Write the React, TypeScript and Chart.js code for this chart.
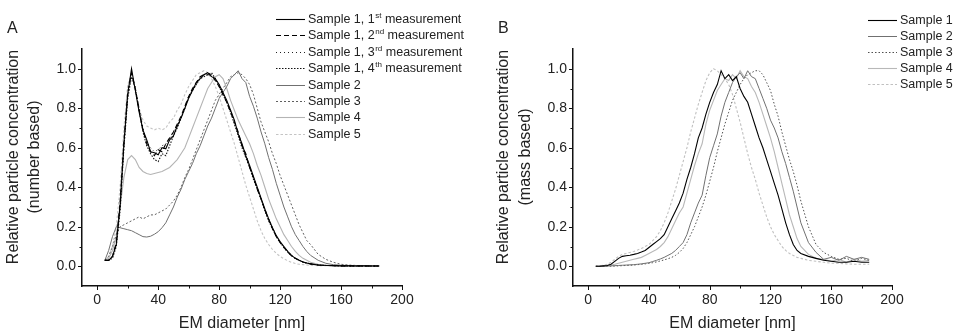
import React, { useEffect, useRef } from "react";
import { Chart, registerables } from "chart.js";

Chart.register(...registerables);

const FONT = '"Liberation Sans", Arial, Helvetica, sans-serif';

// ---------- data ----------
const diameter = [
  5, 7.5, 10, 12.5, 15, 17.5, 20, 22.5, 25, 27.5,
  30, 32.5, 35, 37.5, 40, 42.5, 45, 47.5, 50, 52.5,
  55, 57.5, 60, 62.5, 65, 67.5, 70, 72.5, 75, 77.5,
  80, 82.5, 85, 87.5, 90, 92.5, 95, 97.5, 100, 102.5,
  105, 107.5, 110, 112.5, 115, 117.5, 120, 122.5, 125, 127.5,
  130, 132.5, 135, 137.5, 140,
  145, 150, 155, 160, 165, 170, 175, 180, 185,
];

// Panel A: number based
const numberS1m1 = [
  0.03, 0.03, 0.05, 0.11, 0.31, 0.62, 0.87, 1.0, 0.89, 0.78,
  0.69, 0.64, 0.58, 0.575, 0.565, 0.6, 0.595, 0.64, 0.66, 0.71,
  0.75, 0.8, 0.85, 0.89, 0.93, 0.95, 0.97, 0.98, 0.96, 0.95,
  0.92, 0.88, 0.84, 0.79, 0.74, 0.67, 0.62, 0.56, 0.51, 0.455,
  0.4, 0.345, 0.29, 0.24, 0.195, 0.155, 0.125, 0.1, 0.075, 0.055,
  0.04, 0.03, 0.022, 0.016, 0.012,
  0.006, 0.004, 0.003, 0.002, 0.002, 0.001, 0.002, 0.001, 0.001,
];
const numberS1m2 = [
  0.03, 0.03, 0.05, 0.12, 0.32, 0.63, 0.88, 0.98, 0.9, 0.79,
  0.69, 0.62, 0.58, 0.56, 0.59, 0.58, 0.62, 0.65, 0.68, 0.72,
  0.76, 0.81, 0.86, 0.9, 0.93, 0.96, 0.97, 0.97, 0.97, 0.94,
  0.91, 0.87, 0.83, 0.78, 0.73, 0.68, 0.61, 0.57, 0.5, 0.45,
  0.39, 0.34, 0.285, 0.235, 0.19, 0.15, 0.12, 0.095, 0.072, 0.053,
  0.04, 0.03, 0.022, 0.016, 0.012,
  0.006, 0.004, 0.003, 0.002, 0.002, 0.002, 0.001, 0.001, 0.001,
];
const numberS1m3 = [
  0.03, 0.03, 0.05, 0.11, 0.3, 0.6, 0.86, 0.97, 0.9, 0.8,
  0.7, 0.63, 0.6, 0.58, 0.59, 0.61, 0.62, 0.64, 0.68, 0.71,
  0.75, 0.8, 0.85, 0.89, 0.92, 0.95, 0.97, 0.98, 0.96, 0.95,
  0.92, 0.88, 0.83, 0.79, 0.73, 0.67, 0.61, 0.55, 0.5, 0.45,
  0.4, 0.34, 0.29, 0.24, 0.195, 0.155, 0.125, 0.1, 0.075, 0.055,
  0.04, 0.03, 0.022, 0.016, 0.012,
  0.006, 0.004, 0.003, 0.002, 0.002, 0.001, 0.001, 0.001, 0.001,
];
const numberS1m4 = [
  0.03, 0.03, 0.04, 0.1, 0.28, 0.6, 0.85, 0.96, 0.9, 0.79,
  0.68, 0.61, 0.57, 0.54, 0.53, 0.57, 0.56, 0.61, 0.66, 0.7,
  0.75, 0.8, 0.86, 0.89, 0.92, 0.95, 0.96, 0.97, 0.98, 0.95,
  0.91, 0.87, 0.83, 0.78, 0.72, 0.66, 0.6, 0.55, 0.5, 0.44,
  0.39, 0.34, 0.28, 0.23, 0.19, 0.15, 0.12, 0.095, 0.072, 0.053,
  0.04, 0.03, 0.022, 0.016, 0.012,
  0.006, 0.004, 0.003, 0.002, 0.002, 0.001, 0.001, 0.001, 0.001,
];
const numberS2 = [
  0.03, 0.08, 0.15, 0.2, 0.195, 0.19, 0.185, 0.18, 0.17, 0.16,
  0.15, 0.148, 0.152, 0.162, 0.175, 0.195, 0.22, 0.26, 0.3, 0.35,
  0.39, 0.44, 0.48, 0.52, 0.57, 0.61, 0.66, 0.71, 0.75, 0.8,
  0.85, 0.88, 0.91, 0.95, 0.97, 0.99, 0.95, 0.93, 0.86, 0.81,
  0.75, 0.68, 0.62, 0.55, 0.49, 0.42, 0.36, 0.3, 0.25, 0.2,
  0.16, 0.13, 0.1, 0.075, 0.055,
  0.03, 0.015, 0.008, 0.005, 0.004, 0.003, 0.003, 0.002, 0.002,
];
const numberS3 = [
  0.03, 0.05, 0.1, 0.16, 0.2, 0.21, 0.22, 0.23, 0.24, 0.25,
  0.24, 0.25, 0.26, 0.26, 0.27, 0.28, 0.29, 0.31, 0.33, 0.36,
  0.4, 0.45, 0.49, 0.54, 0.59, 0.64, 0.69, 0.74, 0.79, 0.84,
  0.87, 0.9, 0.93, 0.96, 0.97, 0.98, 0.97, 0.95, 0.92, 0.87,
  0.8, 0.73, 0.68, 0.63, 0.57, 0.52, 0.46, 0.41, 0.36, 0.31,
  0.26, 0.21, 0.17, 0.13, 0.11,
  0.06, 0.035, 0.02, 0.01, 0.006, 0.004, 0.003, 0.002, 0.002,
];
const numberS4 = [
  0.03, 0.04, 0.08, 0.15, 0.3, 0.45, 0.54, 0.56, 0.54, 0.5,
  0.48, 0.47, 0.465, 0.47, 0.475, 0.48, 0.49, 0.5, 0.52, 0.54,
  0.57, 0.6, 0.65, 0.7, 0.75, 0.8, 0.85, 0.9, 0.93, 0.96,
  0.97, 0.95, 0.9, 0.84, 0.79, 0.74, 0.7, 0.66, 0.62, 0.57,
  0.51, 0.46, 0.4, 0.34, 0.29, 0.24, 0.2, 0.16, 0.13, 0.1,
  0.075, 0.055, 0.04, 0.03, 0.02,
  0.01, 0.006, 0.004, 0.003, 0.003, 0.002, 0.002, 0.002, 0.001,
];
const numberS5 = [
  0.03, 0.05, 0.1, 0.2, 0.4, 0.7, 0.92, 0.97, 0.88, 0.8,
  0.74, 0.71, 0.7, 0.69, 0.7, 0.69, 0.7, 0.73, 0.75, 0.79,
  0.82, 0.87, 0.91, 0.94, 0.97, 0.98, 0.99, 0.98, 0.95, 0.91,
  0.86, 0.8, 0.74, 0.68, 0.62, 0.55, 0.48, 0.41, 0.35, 0.29,
  0.23, 0.18, 0.14, 0.11, 0.085, 0.065, 0.05, 0.038, 0.028, 0.02,
  0.014, 0.01, 0.008, 0.006, 0.005,
  0.003, 0.003, 0.002, 0.002, 0.002, 0.001, 0.001, 0.001, 0.001,
];

// Panel B: mass based
const massS1 = [
  0, 0, 0.002, 0.004, 0.01, 0.025, 0.04, 0.05, 0.053, 0.056,
  0.06, 0.065, 0.072, 0.08, 0.095, 0.11, 0.125, 0.14, 0.16, 0.2,
  0.24, 0.28, 0.32, 0.37, 0.44, 0.5, 0.57, 0.65, 0.7, 0.77,
  0.83, 0.88, 0.92, 0.99, 0.95, 0.97, 0.94, 0.96, 0.9, 0.86,
  0.83, 0.77, 0.71, 0.65, 0.6, 0.54, 0.48, 0.42, 0.36, 0.29,
  0.22, 0.16, 0.11, 0.08, 0.065,
  0.05, 0.04, 0.03, 0.025, 0.02, 0.02, 0.025, 0.02, 0.02,
];
const massS2 = [
  0, 0, 0, 0.001, 0.002, 0.003, 0.004, 0.005, 0.006, 0.007,
  0.008, 0.01, 0.012, 0.015, 0.018, 0.024, 0.03, 0.037, 0.045, 0.055,
  0.065, 0.08, 0.1, 0.12, 0.16, 0.22, 0.27, 0.32, 0.36, 0.46,
  0.55, 0.61, 0.67, 0.76, 0.83, 0.88, 0.93, 0.96, 0.98, 0.95,
  0.99, 0.96, 0.95, 0.9, 0.85, 0.8, 0.74, 0.7, 0.65, 0.58,
  0.52, 0.45, 0.38, 0.3, 0.22,
  0.12, 0.07, 0.035, 0.045, 0.03, 0.05, 0.035, 0.045, 0.035,
];
const massS3 = [
  0, 0, 0, 0, 0, 0.001, 0.002, 0.003, 0.004, 0.005,
  0.006, 0.008, 0.01, 0.012, 0.015, 0.018, 0.022, 0.027, 0.032, 0.038,
  0.045, 0.055, 0.07, 0.09, 0.12, 0.16, 0.2, 0.25, 0.3, 0.36,
  0.43, 0.5, 0.58, 0.65, 0.72, 0.78, 0.84, 0.88, 0.92, 0.95,
  0.97, 0.98, 0.99, 0.99, 0.97, 0.93, 0.89, 0.82, 0.76, 0.68,
  0.61, 0.54, 0.48, 0.41, 0.33,
  0.2, 0.11, 0.07, 0.05, 0.035, 0.04, 0.025, 0.04, 0.03,
];
const massS4 = [
  0, 0, 0.002, 0.004, 0.006, 0.01, 0.015, 0.02, 0.025, 0.03,
  0.035, 0.04, 0.045, 0.055, 0.065, 0.075, 0.085, 0.1, 0.12, 0.15,
  0.19, 0.23, 0.27, 0.3, 0.37, 0.44, 0.51, 0.57, 0.62, 0.72,
  0.79, 0.84, 0.89, 0.92, 0.95, 0.94, 0.97, 0.95, 0.99, 0.96,
  0.95, 0.91, 0.88, 0.83, 0.77, 0.71, 0.65, 0.58, 0.5, 0.42,
  0.34, 0.26, 0.2, 0.14, 0.1,
  0.06, 0.04, 0.035, 0.025, 0.035, 0.02, 0.035, 0.025, 0.03,
];
const massS5 = [
  0, 0.002, 0.005, 0.01, 0.02, 0.035, 0.05, 0.06, 0.065, 0.07,
  0.075, 0.082, 0.09, 0.1, 0.11, 0.13, 0.15, 0.18, 0.22, 0.27,
  0.33, 0.39, 0.46, 0.53, 0.6, 0.68, 0.75, 0.82, 0.88, 0.94,
  0.98, 1.0, 0.99, 0.97, 0.95, 0.92, 0.87, 0.8, 0.73, 0.65,
  0.57, 0.5, 0.44, 0.37, 0.31, 0.25, 0.2, 0.16, 0.13, 0.1,
  0.08, 0.065, 0.055, 0.045, 0.04,
  0.03, 0.025, 0.02, 0.015, 0.015, 0.012, 0.01, 0.01, 0.01,
];

// tick values
const xLabelTicks = [0, 40, 80, 120, 160, 200];
const xAllTicks = [0, 20, 40, 60, 80, 100, 120, 140, 160, 180, 200];
const yLabelTicks = [0, 0.2, 0.4, 0.6, 0.8, 1.0];
const yAllTicks = [0, 0.1, 0.2, 0.3, 0.4, 0.5, 0.6, 0.7, 0.8, 0.9, 1.0];

// legend labels: [text, superscript, rest]
type Parts = [string, string, string];
const legendA: Parts[] = [
  ["Sample 1, 1", "st", " measurement"],
  ["Sample 1, 2", "nd", " measurement"],
  ["Sample 1, 3", "rd", " measurement"],
  ["Sample 1, 4", "th", " measurement"],
  ["Sample 2", "", ""],
  ["Sample 3", "", ""],
  ["Sample 4", "", ""],
  ["Sample 5", "", ""],
];
const legendB: Parts[] = [
  ["Sample 1", "", ""],
  ["Sample 2", "", ""],
  ["Sample 3", "", ""],
  ["Sample 4", "", ""],
  ["Sample 5", "", ""],
];

// ---------- styles ----------
interface Style { color: string; dash: number[]; width: number }
const stylesA: Style[] = [
  { color: "#000000", dash: [], width: 1.1 },
  { color: "#000000", dash: [5, 3], width: 1.1 },
  { color: "#222222", dash: [1, 3], width: 1 },
  { color: "#111111", dash: [1.5, 1.5], width: 1.1 },
  { color: "#707070", dash: [], width: 1 },
  { color: "#606060", dash: [2, 2], width: 1 },
  { color: "#b4b4b4", dash: [], width: 1.1 },
  { color: "#c4c4c4", dash: [2.5, 2], width: 1.1 },
];
const stylesB: Style[] = [
  { color: "#000000", dash: [], width: 1.1 },
  { color: "#707070", dash: [], width: 1 },
  { color: "#505050", dash: [1.5, 2], width: 1 },
  { color: "#b8b8b8", dash: [], width: 1.1 },
  { color: "#c0c0c0", dash: [2.5, 2], width: 1.1 },
];

interface PanelDef {
  letter: string;
  letterX: number;
  yTitle: string[];
  yTitleX: number[];
  values: number[][];
  legend: Parts[];
  styles: Style[];
  width: number;
  axisLeft: number;
  plotRight: number;
  legendLine: [number, number];
  legendTextX: number;
  legendTop: number;
  legendStep: number;
}

const panelA: PanelDef = {
  letter: "A",
  letterX: 7,
  yTitle: ["Relative particle concentration", "(number based)"],
  yTitleX: [13.5, 35],
  values: [numberS1m1, numberS1m2, numberS1m3, numberS1m4, numberS2, numberS3, numberS4, numberS5],
  legend: legendA,
  styles: stylesA,
  width: 476,
  axisLeft: 82,
  plotRight: 402,
  legendLine: [276, 305],
  legendTextX: 308,
  legendTop: 19,
  legendStep: 16.4,
};

const panelB: PanelDef = {
  letter: "B",
  letterX: 22,
  yTitle: ["Relative particle concentration", "(mass based)"],
  yTitleX: [28, 49.5],
  values: [massS1, massS2, massS3, massS4, massS5],
  legend: legendB,
  styles: stylesB,
  width: 477,
  axisLeft: 97,
  plotRight: 416,
  legendLine: [392, 421],
  legendTextX: 424,
  legendTop: 20,
  legendStep: 15.9,
};

const decorPlugin = {
  id: "decor",
  afterDraw(chart: any, _args: any, opts: any) {
    const p: PanelDef = opts.panel;
    const { ctx, chartArea } = chart;
    const xs = chart.scales.x;
    const ys = chart.scales.y;
    ctx.save();
    // tick marks (major + minor)
    ctx.strokeStyle = "#111";
    ctx.lineWidth = 1;
    ctx.setLineDash([]);
    ctx.beginPath();
    for (const v of xAllTicks) {
      const px = Math.round(xs.getPixelForValue(v)) + 0.5;
      const len = xLabelTicks.includes(v) ? 4 : 2.5;
      ctx.moveTo(px, chartArea.bottom);
      ctx.lineTo(px, chartArea.bottom + len);
    }
    for (const v of yAllTicks) {
      const py = Math.round(ys.getPixelForValue(v)) + 0.5;
      const major = yLabelTicks.some((t) => Math.abs(t - v) < 1e-6);
      const len = major ? 4 : 2.5;
      ctx.moveTo(chartArea.left, py);
      ctx.lineTo(chartArea.left - len, py);
    }
    ctx.stroke();

    // y-axis title (two lines)
    ctx.fillStyle = "#222";
    ctx.font = `16px ${FONT}`;
    ctx.textAlign = "center";
    ctx.textBaseline = "middle";
    p.yTitle.forEach((line, i) => {
      ctx.save();
      ctx.translate(p.yTitleX[i], 157);
      ctx.rotate(-Math.PI / 2);
      ctx.fillText(line, 0, 0);
      ctx.restore();
    });

    // panel letter
    ctx.textAlign = "left";
    ctx.textBaseline = "alphabetic";
    ctx.font = `16px ${FONT}`;
    ctx.fillText(p.letter, p.letterX, 33);

    // legend
    p.legend.forEach((parts, i) => {
      const st = p.styles[i];
      const y = p.legendTop + i * p.legendStep;
      ctx.strokeStyle = st.color;
      ctx.lineWidth = st.width;
      ctx.setLineDash(st.dash);
      ctx.beginPath();
      ctx.moveTo(p.legendLine[0], Math.round(y) + 0.5);
      ctx.lineTo(p.legendLine[1], Math.round(y) + 0.5);
      ctx.stroke();
      ctx.setLineDash([]);
      ctx.fillStyle = "#222";
      ctx.textBaseline = "middle";
      ctx.font = `12.5px ${FONT}`;
      let x = p.legendTextX;
      ctx.fillText(parts[0], x, y + 0.5);
      x += ctx.measureText(parts[0]).width;
      if (parts[1]) {
        ctx.font = `8px ${FONT}`;
        ctx.fillText(parts[1], x + 0.5, y - 3.5);
        x += ctx.measureText(parts[1]).width + 0.5;
        ctx.font = `12.5px ${FONT}`;
      }
      if (parts[2]) ctx.fillText(parts[2], x, y + 0.5);
    });
    ctx.restore();
  },
};

function buildConfig(p: PanelDef): any {
  return {
    type: "line",
    data: {
      datasets: p.values.map((vals, i) => ({
        label: p.legend[i].join(""),
        data: diameter.map((d, j) => ({ x: d, y: vals[j] })),
        borderColor: p.styles[i].color,
        borderWidth: p.styles[i].width,
        borderDash: p.styles[i].dash,
        pointRadius: 0,
        fill: false,
        tension: 0,
      })),
    },
    plugins: [decorPlugin],
    options: {
      animation: false,
      responsive: false,
      events: [],
      layout: { padding: { left: 0, right: p.width - p.plotRight, top: 49, bottom: 0 } },
      plugins: {
        legend: { display: false },
        tooltip: { enabled: false },
        title: { display: false },
        decor: { panel: p },
      },
      scales: {
        x: {
          type: "linear",
          min: -10,
          max: 200,
          afterFit: (s: any) => {
            s.height = 47;
          },
          afterBuildTicks: (s: any) => {
            s.ticks = xLabelTicks.map((v) => ({ value: v }));
          },
          ticks: {
            color: "#222",
            font: { size: 14, family: FONT },
            padding: 2,
            maxRotation: 0,
            autoSkip: false,
            callback: (v: any) => String(v),
          },
          grid: { display: true, drawOnChartArea: false, drawTicks: true, tickLength: 4, tickColor: "rgba(0,0,0,0)" },
          border: { display: true, color: "#111", width: 1.5 },
          title: {
            display: true,
            text: "EM diameter [nm]",
            color: "#222",
            font: { size: 16, family: FONT },
            padding: 0,
          },
        },
        y: {
          type: "linear",
          min: -0.1,
          max: 1.1,
          afterFit: (s: any) => {
            s.width = p.axisLeft;
          },
          afterBuildTicks: (s: any) => {
            s.ticks = yLabelTicks.map((v) => ({ value: v }));
          },
          ticks: {
            color: "#222",
            font: { size: 14, family: FONT },
            padding: 2,
            autoSkip: false,
            callback: (v: any) => Number(v).toFixed(1),
          },
          grid: { display: true, drawOnChartArea: false, drawTicks: true, tickLength: 4, tickColor: "rgba(0,0,0,0)" },
          border: { display: true, color: "#111", width: 1.5 },
          title: { display: false },
        },
      },
    },
  };
}

function Panel({ def, left }: { def: PanelDef; left: number }) {
  const ref = useRef<HTMLCanvasElement | null>(null);
  useEffect(() => {
    if (!ref.current) return;
    const chart = new Chart(ref.current, buildConfig(def));
    return () => chart.destroy();
  }, [def]);
  return (
    <canvas
      ref={ref}
      width={def.width}
      height={333}
      style={{ position: "absolute", left, top: 0, width: def.width, height: 333 }}
    />
  );
}

export default function App() {
  return (
    <div
      style={{
        position: "absolute",
        left: 0,
        top: 0,
        width: 953,
        height: 333,
        background: "#ffffff",
        overflow: "hidden",
      }}
    >
      <Panel def={panelA} left={0} />
      <Panel def={panelB} left={476} />
    </div>
  );
}
